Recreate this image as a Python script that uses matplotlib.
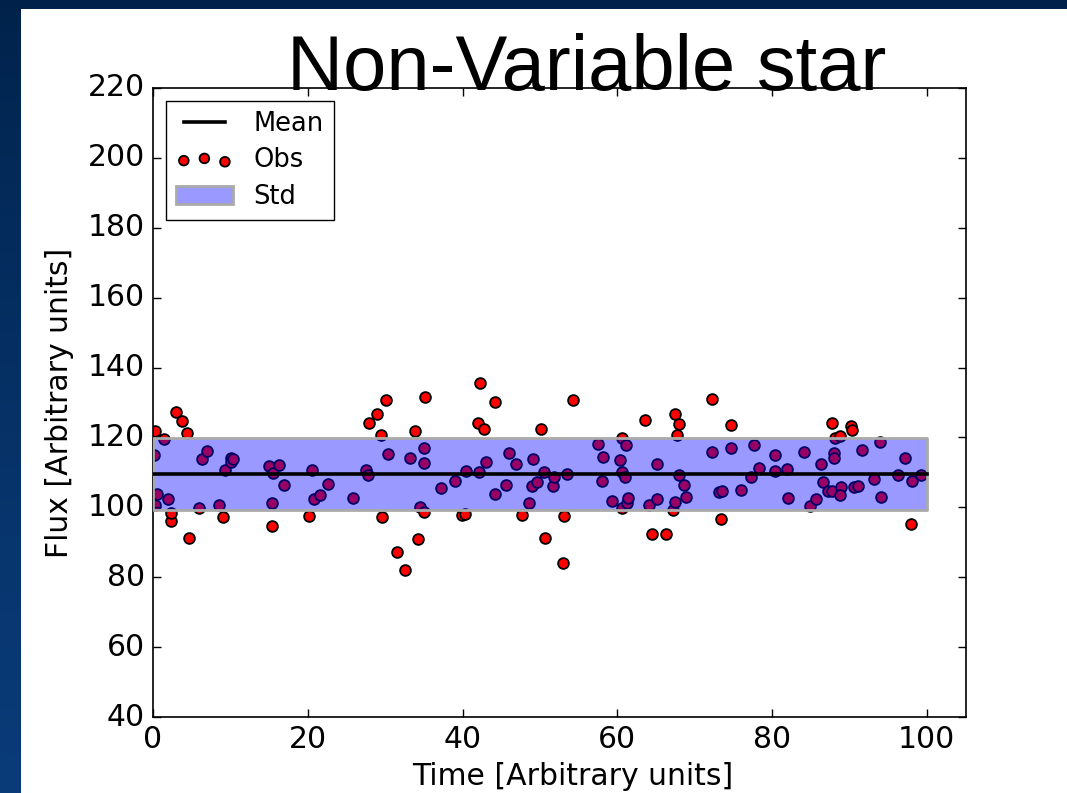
"""
Non-variable star light curve: observations, mean level and 1-sigma band.
"""

import numpy as np
import matplotlib
matplotlib.use("Agg")
import matplotlib.pyplot as plt
from matplotlib.patches import Rectangle

time = [
    0.10, 0.20, 0.26, 0.55, 1.42, 1.97, 2.28, 2.36, 3.00, 3.70,
    4.42, 4.60, 5.93, 6.28, 7.00, 8.51, 9.03, 9.28, 10.02, 10.06,
    10.28, 15.04, 15.35, 15.43, 15.47, 16.25, 16.93, 20.12, 20.59, 20.80,
    21.62, 22.60, 25.79, 27.59, 27.76, 27.85, 29.01, 29.40, 29.62, 30.05,
    30.43, 31.55, 32.56, 33.27, 33.91, 34.30, 34.52, 34.98, 34.98, 35.04,
    35.11, 37.23, 39.03, 39.88, 40.36, 40.45, 42.04, 42.13, 42.26, 42.77,
    42.98, 44.19, 44.23, 45.61, 46.00, 46.85, 47.75, 48.57, 49.09, 48.96,
    49.56, 50.20, 50.55, 50.64, 51.71, 51.84, 53.00, 53.17, 53.48, 54.33,
    57.51, 58.03, 58.20, 59.28, 60.39, 60.57, 60.64, 60.64, 60.95, 61.12,
    61.21, 61.34, 63.61, 64.05, 64.51, 65.08, 65.16, 66.34, 67.21, 67.44,
    67.44, 67.74, 67.96, 67.96, 68.60, 68.90, 72.28, 72.28, 73.18, 73.41,
    73.50, 74.70, 74.75, 75.99, 77.33, 77.63, 78.27, 80.33, 80.36, 81.97,
    82.10, 84.11, 84.89, 85.62, 86.36, 86.56, 87.23, 87.78, 87.78, 87.98,
    87.98, 88.11, 88.76, 88.91, 88.81, 90.14, 90.39, 90.61, 91.17, 91.64,
    93.17, 93.94, 94.13, 96.22, 97.19, 97.94, 98.15, 99.26,
]
flux = [
    115.0, 100.7, 121.9, 103.8, 119.6, 102.3, 96.2, 98.3, 127.3, 124.8,
    121.3, 91.1, 99.7, 113.8, 116.2, 100.8, 97.3, 110.7, 114.0, 112.9,
    113.8, 111.8, 94.7, 101.2, 109.8, 112.0, 106.4, 97.6, 110.7, 102.3,
    103.5, 106.6, 102.7, 110.7, 109.2, 124.1, 126.6, 120.8, 97.2, 130.8,
    115.3, 87.1, 82.1, 114.0, 121.9, 90.9, 100.2, 98.8, 117.0, 112.8,
    131.7, 105.5, 107.5, 97.7, 98.0, 110.4, 124.1, 110.0, 135.5, 122.5,
    112.9, 103.8, 130.0, 106.5, 115.6, 112.4, 97.7, 101.2, 113.8, 106.2,
    107.3, 122.5, 110.2, 91.1, 106.1, 108.8, 84.0, 97.6, 109.5, 130.8,
    118.0, 107.5, 114.5, 101.9, 113.6, 119.8, 99.7, 110.2, 108.8, 117.7,
    101.3, 102.7, 125.0, 100.8, 92.4, 112.3, 102.3, 92.5, 99.2, 101.5,
    126.8, 120.6, 123.9, 109.3, 106.5, 103.1, 131.0, 115.9, 104.3, 96.7,
    104.8, 123.5, 116.9, 104.9, 108.6, 117.8, 111.3, 115.0, 110.4, 111.0,
    102.7, 115.8, 100.4, 102.4, 112.5, 107.2, 104.8, 104.8, 124.2, 115.5,
    114.0, 119.9, 120.5, 105.9, 103.6, 123.4, 122.0, 105.7, 106.2, 116.3,
    108.1, 118.8, 103.0, 109.3, 114.2, 95.2, 107.5, 109.3,
]
time_span = [0, 100]
mean_flux = 109.55
std_flux = 10.2

plt.style.use("classic")
plt.rcParams["font.family"] = ["DejaVu Sans"]

W, H = 1067, 793
fig = plt.figure(figsize=(W / 100, H / 100), dpi=100, facecolor="#00234b")

# slide background: navy gradient with a white content panel
bg = fig.add_axes([0, 0, 1, 1], zorder=-10)
bg.axis("off")
grad = np.linspace(0, 1, 256).reshape(-1, 1)
top_c = np.array([0, 34, 74]) / 255
bot_c = np.array([10, 60, 122]) / 255
img = top_c + (bot_c - top_c) * grad[..., None] ** 0.8
bg.imshow(img, aspect="auto", extent=[0, 1, 0, 1], origin="upper")
bg.add_patch(Rectangle((21 / W, 0), 1, 1 - 9 / H, transform=bg.transAxes,
                       facecolor="white", edgecolor="none"))
bg.set_xlim(0, 1)
bg.set_ylim(0, 1)

ax = fig.add_axes([153 / W, 1 - 717 / H, (965.5 - 153) / W, (717 - 88) / H])
ax.set_facecolor("white")

ax.scatter(time, flux, s=60, c="red", edgecolors="black", linewidths=1.3,
           label="Obs", zorder=2)
ax.fill_between(time_span, mean_flux - std_flux, mean_flux + std_flux,
                facecolor=(0, 0, 1, 0.4), edgecolor="#aaaaaa", linewidth=2,
                label="Std", zorder=3)
ax.plot(time_span, [mean_flux, mean_flux], color="black", lw=2.6,
        label="Mean", zorder=4)

ax.set_xlim(0, 105)
ax.set_ylim(40, 220)
ax.set_xticks(np.arange(0, 101, 20))
ax.set_yticks(np.arange(40, 221, 20))
ax.tick_params(labelsize=21.5, direction="in", length=6, width=1,
               top=True, right=True, pad=6)
for sp in ax.spines.values():
    sp.set_linewidth(1.2)

ax.set_xlabel("Time [Arbitrary units]", fontsize=21.5, labelpad=6)
ax.xaxis.set_label_coords(0.516, -0.072)
ax.set_ylabel("Flux [Arbitrary units]", fontsize=21.5, labelpad=10)

handles, labels = ax.get_legend_handles_labels()
order = [labels.index(k) for k in ("Mean", "Obs", "Std")]
ax.legend([handles[i] for i in order], [labels[i] for i in order],
          loc="upper left", fontsize=18.5, fancybox=False, scatterpoints=3,
          markerscale=0.9, handlelength=2.2, labelspacing=0.4, borderpad=0.4,
          framealpha=1, edgecolor="black")

fig.text(587 / W, 1 - 90 / H, "Non-Variable star", fontsize=56,
         family=["Liberation Sans", "DejaVu Sans"], ha="center", va="baseline")

fig.savefig("out.png", dpi=100, facecolor=fig.get_facecolor())
